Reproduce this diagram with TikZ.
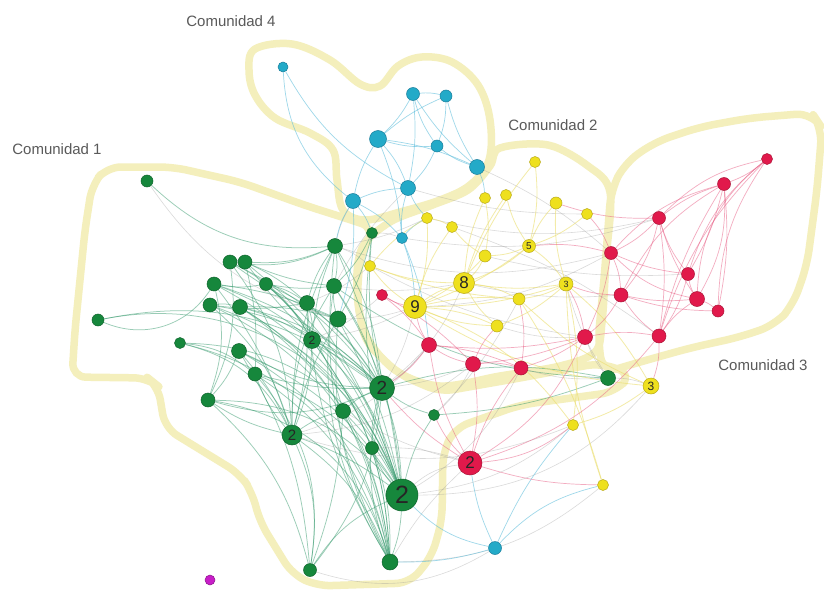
\documentclass[tikz,border=0pt]{standalone}
\usepackage{fontspec}
\setmainfont{Liberation Sans}
\definecolor{gfill}{RGB}{22,135,60}
\definecolor{gdraw}{RGB}{15,100,45}
\definecolor{rfill}{RGB}{225,25,75}
\definecolor{rdraw}{RGB}{170,20,55}
\definecolor{yfill}{RGB}{238,224,30}
\definecolor{ydraw}{RGB}{185,170,25}
\definecolor{cfill}{RGB}{35,170,200}
\definecolor{cdraw}{RGB}{25,125,155}
\definecolor{mfill}{RGB}{200,30,200}
\definecolor{hullc}{RGB}{244,239,188}
\definecolor{egc}{RGB}{55,155,110}
\definecolor{erc}{RGB}{232,90,130}
\definecolor{eyc}{RGB}{235,222,110}
\definecolor{ecc}{RGB}{95,190,220}
\definecolor{exc}{RGB}{150,150,150}
\definecolor{txtc}{RGB}{90,90,90}
\pgfdeclarelayer{hulls}
\pgfdeclarelayer{edges}
\pgfsetlayers{hulls,edges,main}
\tikzset{
  nd/.style={circle,inner sep=0pt,line width=0.5pt,text=black!85},
  gn/.style={nd,fill=gfill,draw=gdraw,minimum size=#1},
  gn/.default=13pt,
  rn/.style={nd,fill=rfill,draw=rdraw,minimum size=#1},
  rn/.default=13pt,
  yn/.style={nd,fill=yfill,draw=ydraw,minimum size=#1},
  yn/.default=11pt,
  cn/.style={nd,fill=cfill,draw=cdraw,minimum size=#1},
  cn/.default=13pt,
  mn/.style={nd,fill=mfill,draw=mfill!70!black,minimum size=#1},
  lab/.style={font=\fontsize{#1}{#1}\selectfont},
  hull/.style={draw=hullc,line width=7.5pt,line join=round,line cap=round},
  eg/.style={draw=egc,opacity=0.5,line width=0.75pt},
  er/.style={draw=erc,opacity=0.5,line width=0.7pt},
  ey/.style={draw=eyc,opacity=0.6,line width=0.8pt},
  ec/.style={draw=ecc,opacity=0.6,line width=0.7pt},
  ex/.style={draw=exc,opacity=0.35,line width=0.6pt},
  comlbl/.style={text=txtc,font=\fontsize{15}{15}\selectfont,inner sep=0pt}
}
\begin{document}
\begin{tikzpicture}[x=1pt,y=-1pt]
\useasboundingbox (0,0) rectangle (824,591);
\begin{pgfonlayer}{hulls}
\fill[white] (0,0) rectangle (824,591);
\draw[hull,rounded corners=14pt] (107,167) -- (173,167) -- (240,182) -- (307,206) -- (345,218) -- (375,228)
  -- (360,255) -- (357,300) -- (365,342) -- (400,375) -- (440,392) -- (520,378) -- (600,363) -- (632,374)
  -- (615,392) -- (520,405) -- (455,428) -- (443,452) -- (442,520) -- (432,556) -- (410,583) -- (317,586)
  -- (292,574) -- (260,522) -- (252,492) -- (240,474) -- (165,428) -- (158,386) -- (148,378) -- (72,377)
  -- (75,330) -- (85,230) -- (92,185) -- cycle;
\draw[hull] plot[smooth cycle,tension=0.6] coordinates {(255,49) (292,44) (330,60) (360,84) (380,86) (398,66)
  (422,57) (452,62) (478,85) (490,120) (489,160) (470,185) (440,200) (400,212) (365,220) (343,210)
  (337,180) (333,150) (310,133) (275,118) (255,95) (249,70)};
\draw[hull] plot[smooth cycle,tension=0.55] coordinates {(500,148) (548,145) (588,166) (610,192) (606,260)
  (602,322) (595,352) (560,366) (500,376) (440,386) (395,370) (366,335) (357,290) (362,248) (390,222)
  (430,206) (468,190) (490,166)};
\draw[hull,rounded corners=16pt] (611,190) -- (625,163) -- (655,142) -- (700,127) -- (750,118) -- (812,113)
  -- (822,128) -- (817,190) -- (807,265) -- (793,305) -- (775,325) -- (740,337) -- (690,348) -- (640,362)
  -- (603,373) -- (598,340) -- (604,280) -- cycle;
\end{pgfonlayer}
% ---------- labels ----------
\node[comlbl] (L1) at (57,149) {Comunidad 1};
\node[comlbl] (L2) at (553,125) {Comunidad 2};
\node[comlbl] (L3) at (763,365) {Comunidad 3};
\node[comlbl] (L4) at (231,21) {Comunidad 4};
% ---------- nodes ----------
\node[gn=12pt] (g1) at (147,181) {};
\node[gn=12pt] (g2) at (98,320) {};
\node[gn=14pt] (g3) at (230,262) {};
\node[gn=14pt] (g4) at (245,262) {};
\node[gn=14pt] (g5) at (214,284) {};
\node[gn=13pt] (g6) at (266,284) {};
\node[gn=14pt] (g7) at (210,305) {};
\node[gn=15pt] (g8) at (240,307) {};
\node[gn=11pt] (g9) at (180,343) {};
\node[gn=15pt] (g10) at (335,246) {};
\node[gn=15pt] (g11) at (334,286) {};
\node[gn=15pt] (g12) at (307,303) {};
\node[gn=16pt] (g13) at (338,319) {};
\node[gn=17pt,lab=12] (g14) at (312,340) {2};
\node[gn=15pt] (g15) at (239,351) {};
\node[gn=14pt] (g16) at (255,374) {};
\node[gn=14pt] (g17) at (208,400) {};
\node[gn=15pt] (g18) at (343,411) {};
\node[gn=20pt,lab=15] (g19) at (292,435) {2};
\node[gn=25pt,lab=19] (g20) at (382,388) {2};
\node[gn=11pt] (g21) at (372,233) {};
\node[gn=32pt,lab=25] (g22) at (402,495) {2};
\node[gn=11pt] (g23) at (434,415) {};
\node[gn=13pt] (g24) at (310,570) {};
\node[gn=16pt] (g25) at (390,562) {};
\node[gn=15pt] (g26) at (608,378) {};
\node[gn=13pt] (g27) at (372,448) {};
\node[mn=10pt] (m1) at (210,580) {};
\node[cn=10pt] (c1) at (283,67) {};
\node[cn=13pt] (c2) at (413,94) {};
\node[cn=12pt] (c3) at (446,96) {};
\node[cn=17pt] (c4) at (378,139) {};
\node[cn=12pt] (c5) at (437,146) {};
\node[cn=15pt] (c6) at (477,167) {};
\node[cn=15pt] (c7) at (408,188) {};
\node[cn=15pt] (c8) at (353,201) {};
\node[cn=11pt] (c9) at (402,238) {};
\node[cn=13pt] (c10) at (495,548) {};
\node[yn] (y1) at (535,162) {};
\node[yn] (y2) at (485,198) {};
\node[yn] (y3) at (506,195) {};
\node[yn=12pt] (y4) at (556,203) {};
\node[yn] (y5) at (587,214) {};
\node[yn] (y6) at (427,218) {};
\node[yn] (y7) at (452,227) {};
\node[yn=13pt,lab=10] (y8) at (529,246) {5};
\node[yn=12pt] (y9) at (485,256) {};
\node[yn] (y10) at (370,266) {};
\node[yn=21pt,lab=17] (y11) at (464,283) {8};
\node[yn=14pt,lab=9] (y12) at (566,284) {3};
\node[yn=12pt] (y13) at (519,299) {};
\node[yn=23pt,lab=17] (y14) at (415,307) {9};
\node[yn=12pt] (y15) at (497,326) {};
\node[yn=16pt,lab=12] (y16) at (651,386) {3};
\node[yn] (y17) at (573,425) {};
\node[yn] (y18) at (603,485) {};
\node[rn=11pt] (r1) at (767,159) {};
\node[rn=13pt] (r2) at (724,184) {};
\node[rn=13pt] (r3) at (659,218) {};
\node[rn=13pt] (r4) at (611,253) {};
\node[rn=13pt] (r5) at (688,274) {};
\node[rn=14pt] (r6) at (621,295) {};
\node[rn=15pt] (r7) at (697,299) {};
\node[rn=12pt] (r8) at (718,311) {};
\node[rn=15pt] (r9) at (585,337) {};
\node[rn=14pt] (r10) at (659,336) {};
\node[rn=11pt] (r11) at (382,295) {};
\node[rn=15pt] (r12) at (429,345) {};
\node[rn=15pt] (r13) at (473,364) {};
\node[rn=14pt] (r14) at (521,368) {};
\node[rn=24pt,lab=17] (r15) at (470,463) {2};
% ---------- edges ----------
\begin{pgfonlayer}{edges}
\foreach \a/\b/\k in {g1/g10/-15, g2/g5/-25, g9/g16/10, g9/g19/15, g9/g22/20, g3/g4/6, g3/g10/-10,
  g4/g10/-8, g3/g14/10, g4/g12/5, g3/g19/10, g4/g22/10, g5/g6/-6, g5/g20/8, g5/g22/12, g5/g13/5,
  g6/g11/-5, g6/g22/8, g6/g14/5, g7/g8/6, g7/g19/10, g7/g22/15, g7/g12/-5, g8/g13/5, g8/g20/10,
  g8/g22/10, g10/g11/6, g10/g12/-6, g10/g20/8, g10/g22/5, g11/g13/-6, g11/g20/5, g11/g19/-10,
  g12/g14/6, g12/g22/5, g13/g20/5, g13/g22/5, g14/g20/5, g14/g22/10, g15/g19/5, g15/g22/10,
  g15/g20/-8, g16/g22/10, g16/g20/-5, g17/g22/15, g17/g25/20, g17/g19/-6, g18/g22/5, g18/g20/6,
  g19/g22/5, g19/g24/10, g19/g25/10, g20/g22/5, g20/g25/-10, g21/g13/5, g21/g20/-5, g22/g24/-10,
  g22/g25/5, g27/g22/-6, g27/g20/6, g16/g24/15, g24/g20/-10, g25/g14/-10, g12/g19/5, g3/g17/10,
  g4/g16/5, g5/g17/10, g6/g18/10, g8/g18/8, g11/g22/8, g14/g25/10, g15/g25/15, g10/g19/-8,
  g23/g20/6, g23/g22/-6, g26/g20/-8, g26/g23/5, g26/g11/10, g18/g25/5, g17/g24/10, g9/g25/20,
  g7/g20/10, g3/g13/-5, g4/g11/-5, g6/g12/6, g5/g14/5, g16/g19/-6, g15/g17/6, g8/g14/5, g12/g20/5,
  g13/g19/-5, g14/g19/6, g18/g19/-6, g27/g25/6, g18/g24/5, g10/g14/-5, g21/g11/6, g21/g22/-8,
  g2/g22/25, g2/g20/15, g3/g20/8, g4/g20/-6, g6/g20/10, g7/g25/18, g8/g25/15, g12/g25/-8,
  g13/g25/-10, g16/g25/12, g17/g20/-12, g15/g24/8, g5/g19/6, g11/g25/-12, g10/g25/-10}
  {\pgfmathsetmacro\kk{1.6*\k}\draw[eg] (\a) to[bend left=\kk] (\b);}
\foreach \a/\b/\k in {g22/r15/10, g20/r12/-5, g20/r13/-5, g20/y14/-5, g13/y14/-5, g11/y11/-5,
  g10/y10/6, g14/r11/-5, g22/y17/-10, g22/r14/-10, g21/c9/6, g10/c8/5, g11/c7/5, g19/r12/-10,
  g22/y16/-15, g27/r15/6, g23/r13/-6, g25/r15/5, g24/c10/-15, g26/y16/6, g26/r9/5, g10/y6/-5,
  g12/y10/-5, g20/y11/-8, g23/y13/-5, g14/y14/-5, g19/r13/-10, g18/r15/-5, y14/r4/-8, y11/r6/-5,
  y10/r9/-6, g10/r4/-10, c9/r3/-8, y6/r3/-8, y7/r10/5, y9/r5/-5, c7/y5/-5, c6/r4/5, g26/y12/5,
  g26/r14/6, y15/r9/-6, g1/g13/-12, g19/y17/-12, g25/y18/-12}
  {\pgfmathsetmacro\kk{1.6*\k}\draw[ex] (\a) to[bend left=\kk] (\b);}
\foreach \a/\b/\k in {c1/c8/-15, c1/c7/-10, c2/c3/6, c2/c4/5, c2/c5/-6, c2/c7/5, c3/c5/6, c3/c6/-5,
  c4/c5/-6, c4/c6/5, c4/c7/6, c4/c8/-6, c5/c7/6, c7/c8/-6, c8/g21/6, c7/c9/-6, c4/c9/5, c5/c6/-6,
  c9/y6/6, c9/r12/5, c10/r15/5, c10/y18/10, c10/g22/10, c10/y17/5, c10/g25/5, c8/c9/6, c2/c6/-5,
  c4/c3/5, c8/g10/-6, c6/y2/6, c7/y6/-6, c9/y14/5, c8/g13/6}
  {\pgfmathsetmacro\kk{1.6*\k}\draw[ec] (\a) to[bend left=\kk] (\b);}
\foreach \a/\b/\k in {y14/y11/6, y11/y8/-6, y11/y13/6, y11/y12/-5, y14/y10/6, y14/y6/-6, y14/y7/6,
  y11/y9/-6, y8/y4/6, y8/y5/-6, y11/y2/6, y11/y3/5, y13/y12/-6, y15/y11/6, y15/y14/-6, y12/y16/6,
  y9/y8/-6, y6/y7/6, y14/y13/5, y14/y15/-6, y11/y1/5, y16/y17/6, y10/y11/-6, y14/y12/-5, y12/y4/6,
  y13/y18/5, y17/y14/-10, y14/y16/-8, y8/y12/6, y7/y9/-6, y2/y9/6, y3/y8/-6, y1/y8/6, y15/y12/-6,
  y10/y6/6, y14/y9/-6, y18/y12/5, y17/y12/-6, y16/y13/6, y14/y8/-5, y10/y13/-5}
  {\pgfmathsetmacro\kk{1.6*\k}\draw[ey] (\a) to[bend left=\kk] (\b);}
\foreach \a/\b/\k in {r1/r2/6, r1/r3/-10, r1/r7/-15, r1/r8/-10, r2/r3/-6, r2/r4/-10, r2/r5/5,
  r2/r7/10, r2/r8/5, r2/r6/-10, r3/r4/6, r3/r5/-6, r3/r7/-5, r3/r10/5, r4/r5/-5, r4/r6/6, r4/r7/-10,
  r4/r9/5, r5/r7/-6, r6/r7/-5, r6/r9/6, r6/r10/-6, r7/r8/6, r7/r10/-6, r9/r10/6, r9/r14/5, r10/y16/6,
  r12/r13/-6, r13/r14/6, r12/r15/-6, r13/r15/6, r14/r15/-6, r15/y17/-10, r15/g23/6, r11/y14/-6,
  r11/r12/5, r12/y14/6, r9/y12/-6, r6/y12/6, r4/y5/-6, r13/r9/-5, r12/r9/-5, r15/r10/-10, r3/y4/6,
  r4/y8/-6, r1/r5/-10, r2/r10/-5, r5/r10/6, r6/r8/-5, r12/r14/5, r11/r13/5, r15/r9/-10, r13/y15/6,
  r14/y13/-6, r15/y18/-5, r12/g20/6, r15/g20/5, r1/r10/-8, r3/r6/8}
  {\pgfmathsetmacro\kk{1.6*\k}\draw[er] (\a) to[bend left=\kk] (\b);}
\end{pgfonlayer}
\end{tikzpicture}
\end{document}
